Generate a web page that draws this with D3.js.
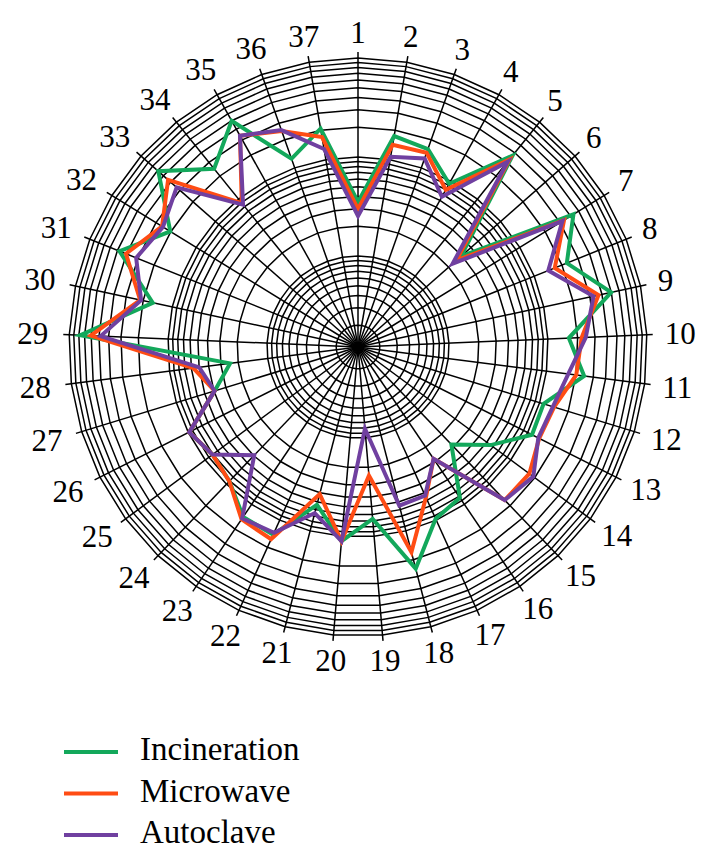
<!DOCTYPE html>
<html lang="en">

<head>
    <script src='https://d3js.org/d3.v7.min.js'></script>
</head>

<body style="margin:0;background:#fff">

    <style>
        svg text {
            fill: #000;
            font-family: "Liberation Serif", "DejaVu Serif", serif;
        }
    </style>

    <script>
        // axis numbers around the circle
        let axisLabels = d3.range(1, 38);

        // values (radial axis is logarithmic)
        let incineration = [35.1, 175, 159, 93.3, 368, 29.2, 433, 226, 498, 163,
            242, 110, 112, 55.9, 27.8, 83, 96.6, 248, 66.6, 112,
            53.4, 145, 142, 91, 81, 97.7, 39.4, 24.2, 774, 159,
            475, 203, 586, 248, 498, 125, 208];
        let microwave = [29.8, 142, 145, 79.3, 327, 25.4, 335, 167, 368, 220,
            201, 142, 135, 171, 167, 27.8, 55.9, 167, 24.2, 112,
            41.3, 163, 152, 91, 81, 97.7, 39.4, 57.2, 606, 215,
            404, 254, 433, 89, 335, 248, 171];
        let autoclave = [25.4, 107, 126, 65.8, 305, 22.6, 320, 142, 327, 242,
            167, 138, 132, 192, 167, 27.8, 53.4, 54.6, 8.11, 112,
            65.2, 138, 148, 39.4, 81, 97.7, 39.4, 49.8, 481, 210,
            313, 248, 332, 85, 335, 254, 129];

        let seriesNames = ["Incineration", "Microwave", "Autoclave"];
        let seriesColors = ["#13a85b", "#ff4c14", "#7040a0"];

        var width = 711,
            height = 863;
        var cx = 358,
            cy = 347;
        var outerR = 289;

        var svg = d3.select("body")
            .append("svg")
            .attr("width", width)
            .attr("height", height);

        var r = d3.scaleLog()
            .domain([1, 1000])
            .range([-8, outerR]);

        var angle = d3.scaleLinear()
            .domain([0, axisLabels.length])
            .range([0, 2 * Math.PI]);

        function px(i, rad) {
            return cx + rad * Math.sin(angle(i));
        }

        function py(i, rad) {
            return cy - rad * Math.cos(angle(i));
        }

        var g = svg.append("g");

        // ring values: 2..9, 10..90, 100..1000
        var rings = [];
        [1, 10, 100].forEach(function(dec) {
            for (var k = 1; k <= 9; k++) {
                if (dec * k > 1) rings.push(dec * k);
            }
        });
        rings.push(1000);

        g.selectAll(".ring")
            .data(rings)
            .enter()
            .append("polygon")
            .attr("points", function(v) {
                return axisLabels.map(function(d, i) {
                    return px(i, r(v)) + "," + py(i, r(v));
                }).join(" ");
            })
            .attr("fill", "none")
            .attr("stroke", "#000")
            .attr("stroke-width", 1.5);

        g.selectAll(".spoke")
            .data(axisLabels)
            .enter()
            .append("line")
            .attr("x1", cx)
            .attr("y1", cy)
            .attr("x2", function(d, i) {
                return px(i, outerR + 6);
            })
            .attr("y2", function(d, i) {
                return py(i, outerR + 6);
            })
            .attr("stroke", "#000")
            .attr("stroke-width", 1.5);

        // axis labels
        var labels = g.selectAll(".lab")
            .data(axisLabels)
            .enter()
            .append("text")
            .style("font-size", "31px")
            .attr("text-anchor", "middle")
            .text(function(d) {
                return d;
            });

        labels.each(function(d, i) {
            var w = this.getComputedTextLength();
            var h = 21;
            var a = angle(i);
            var s = Math.sin(a);
            // left side labels sit a little further out
            var base = outerR + 15 + (s < 0 ? -s * 6 : s * 3);
            var x = px(i, base) + s * w / 2;
            var y = py(i, base) - Math.cos(a) * h / 2;
            d3.select(this)
                .attr("x", x)
                .attr("y", y + h / 2);
        });

        var line = d3.lineRadial()
            .angle(function(d, i) {
                return angle(i);
            })
            .radius(function(d) {
                return r(d);
            })
            .curve(d3.curveLinearClosed);

        var series = [incineration, microwave, autoclave];

        svg.append("g")
            .attr("transform", "translate(" + cx + "," + cy + ")")
            .selectAll("path")
            .data(series)
            .enter()
            .append("path")
            .attr("d", line)
            .attr("fill", "none")
            .attr("stroke", function(d, i) {
                return seriesColors[i];
            })
            .attr("stroke-width", 4)
            .attr("stroke-linejoin", "miter");

        // legend
        var legend = svg.append("g")
            .selectAll("g")
            .data(seriesNames)
            .enter()
            .append("g")
            .attr("transform", function(d, i) {
                return "translate(0," + (752 + i * 41.5) + ")";
            });

        legend.append("line")
            .attr("x1", 64)
            .attr("x2", 118)
            .attr("stroke", function(d, i) {
                return seriesColors[i];
            })
            .attr("stroke-width", 4);

        legend.append("text")
            .attr("x", 140)
            .attr("y", 8)
            .style("font-size", "33px")
            .text(function(d) {
                return d;
            });
    </script>
</body>

</html>
